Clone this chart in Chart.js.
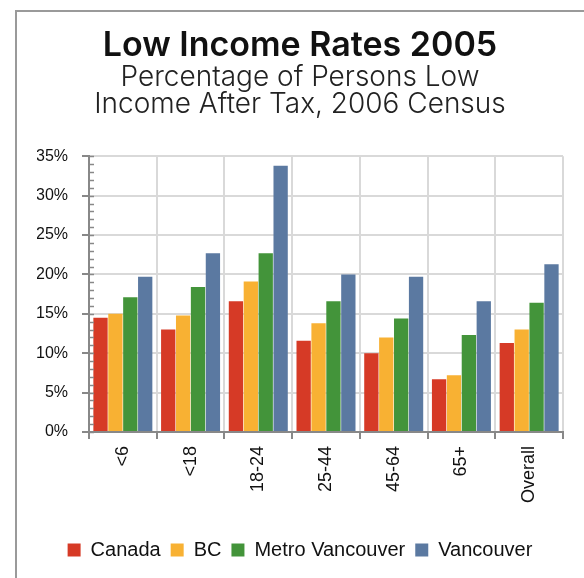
<!DOCTYPE html>
<html>
<head>
<meta charset="utf-8">
<script src="https://cdn.jsdelivr.net/npm/chart.js@4"></script>
<style>
  html, body { margin: 0; padding: 0; background: #fff; overflow: hidden; }
  #frame {
    position: absolute; left: 15px; top: 10px; width: 600px; height: 600px;
    border-left: 2px solid #9a9a9a; border-top: 2px solid #9a9a9a;
  }
  #wrap { position: absolute; left: 0; top: 0; width: 584px; height: 578px; }
</style>
</head>
<body>
<div id="frame"></div>
<div id="wrap"><canvas id="incomeChart"></canvas></div>
<script>
const categories = ["<6", "<18", "18-24", "25-44", "45-64", "65+", "Overall"];
const canada = [14.5, 13.0, 16.6, 11.6, 10.0, 6.7, 11.3];
const bc = [15.0, 14.8, 19.1, 13.8, 12.0, 7.2, 13.0];
const metroVancouver = [17.1, 18.4, 22.7, 16.6, 14.4, 12.3, 16.4];
const vancouver = [19.7, 22.7, 33.8, 20.0, 19.7, 16.6, 21.3];
const percentTicks = [0, 5, 10, 15, 20, 25, 30, 35];

const axisGrey = "#888888";
const gridGrey = "#d9d9d9";

// small inside ticks every 1% along the y axis
const minorTicks = {
    id: "minorTicks",
    afterDraw(chart) {
        const y = chart.scales.y;
        const ctx = chart.ctx;
        ctx.save();
        ctx.strokeStyle = axisGrey;
        ctx.lineWidth = 1.5;
        for (let v = 0; v <= 35; v++) {
            const py = Math.round(y.getPixelForValue(v)) + 0.5;
            ctx.beginPath();
            ctx.moveTo(y.right, py);
            ctx.lineTo(y.right + 5, py);
            ctx.stroke();
        }
        ctx.restore();
    }
};

const ctx = document.getElementById("incomeChart");

new Chart(ctx, {
    type: "bar",
    data: {
        labels: categories,
        datasets: [
            { label: "Canada", data: canada, backgroundColor: "#d63a26" },
            { label: "BC", data: bc, backgroundColor: "#f8b133" },
            { label: "Metro Vancouver", data: metroVancouver, backgroundColor: "#43943a" },
            { label: "Vancouver", data: vancouver, backgroundColor: "#5b79a1" }
        ]
    },
    options: {
        responsive: true,
        maintainAspectRatio: false,
        animation: false,
        categoryPercentage: 0.88,
        barPercentage: 0.96,
        layout: { padding: { left: 37, right: 21, top: 29, bottom: 8 } },
        plugins: {
            title: {
                display: true,
                text: "Low Income Rates 2005",
                color: "#111",
                font: { family: "Inter", size: 34, weight: "600", lineHeight: 1.0 },
                padding: { top: 0, bottom: 1 }
            },
            subtitle: {
                display: true,
                text: ["Percentage of Persons Low", "Income After Tax, 2006 Census"],
                color: "#222",
                font: { family: "Inter", size: 28, weight: "300", lineHeight: 0.97 },
                padding: { top: 0, bottom: 38 }
            },
            legend: {
                position: "bottom",
                labels: {
                    boxWidth: 13,
                    boxHeight: 13,
                    padding: 10,
                    color: "#111",
                    font: { family: "Liberation Sans", size: 20 }
                }
            },
            tooltip: { enabled: false }
        },
        scales: {
            x: {
                afterFit(scale) { scale.height = 98; },
                grid: {
                    color: gridGrey,
                    lineWidth: 2,
                    tickLength: 7,
                    tickColor: axisGrey,
                    tickWidth: 2
                },
                border: { color: axisGrey, width: 2 },
                ticks: {
                    minRotation: 90,
                    maxRotation: 90,
                    padding: 7,
                    color: "#111",
                    font: { family: "Liberation Sans", size: 18 }
                }
            },
            y: {
                min: 0,
                max: 35,
                afterFit(scale) { scale.width = 52; },
                afterBuildTicks(scale) {
                    scale.ticks = percentTicks.map(v => ({ value: v }));
                },
                grid: {
                    color: gridGrey,
                    lineWidth: 2,
                    tickLength: 7,
                    tickColor: axisGrey,
                    tickWidth: 2
                },
                border: { color: axisGrey, width: 2 },
                ticks: {
                    padding: 14,
                    color: "#111",
                    font: { family: "Liberation Sans", size: 16 },
                    callback: v => v + "%"
                }
            }
        }
    },
    plugins: [minorTicks]
});
</script>
</body>
</html>
